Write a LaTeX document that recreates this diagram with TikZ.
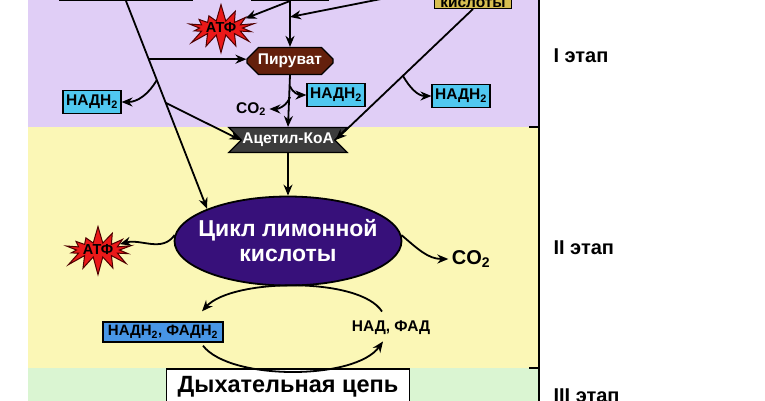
\documentclass[tikz,border=0pt]{standalone}
\usepackage{fontspec}
\setmainfont{Liberation Sans}
\usetikzlibrary{arrows.meta,calc,shapes.symbols,shapes.misc,shapes.geometric}
\definecolor{lilacbg}{RGB}{224,206,246}
\definecolor{yellowbg}{RGB}{251,247,182}
\definecolor{greenbg}{RGB}{218,245,210}
\definecolor{nadhcyan}{RGB}{80,200,240}
\definecolor{nadhblue}{RGB}{72,150,230}
\definecolor{pyrbrown}{RGB}{100,32,12}
\definecolor{acetgray}{RGB}{60,60,60}
\definecolor{cycviolet}{RGB}{55,16,122}
\definecolor{kislgold}{RGB}{215,190,80}
\definecolor{atfred}{RGB}{235,25,25}
\definecolor{atfdark}{RGB}{80,0,0}
\begin{document}
\begin{tikzpicture}[x=1pt,y=1pt,
  arr/.style={-{Stealth[length=11pt,width=9pt]},line width=1.8pt},
  lbl/.style={font=\fontsize{15.5}{15.5}\selectfont\bfseries},
  nadh/.style={draw,line width=1.4pt,fill=nadhcyan,lbl,inner xsep=3pt,inner ysep=2pt,minimum height=23pt},
  atf/.style={starburst,starburst points=14,starburst point height=18pt,random starburst=7,
    draw=atfdark,line width=1pt,fill=atfred,text=black,font=\fontsize{14.5}{14.5}\selectfont\bfseries,
    minimum width=54pt,minimum height=27pt,inner sep=0pt},
  stage/.style={font=\fontsize{20}{20}\selectfont\bfseries,anchor=base west}]
\useasboundingbox (0,0) rectangle (765,-400);
\clip (0,0) rectangle (765,-400);
\fill[lilacbg] (28,5) rectangle (539,-127);
\fill[yellowbg] (28,-127) rectangle (539,-368);
\fill[greenbg] (28,-368) rectangle (539,-405);
\draw[line width=1.8pt] (539,5) -- (539,-405);
\draw[line width=1.8pt] (529,-127) -- (539,-127) (529,-368) -- (539,-368);

\node[draw,line width=1.8pt,fill=white,minimum width=133pt,minimum height=30pt,anchor=south] (src1) at (126,-1) {};
\node[draw,line width=1.8pt,fill=white,minimum width=76pt,minimum height=30pt,anchor=south] (src2) at (290,-1) {};
\coordinate (src3) at (386,2);
\node[draw,line width=1.4pt,fill=kislgold,lbl,anchor=south,minimum width=77pt,inner ysep=1pt] (kisl) at (473,-9) {кислоты};

\node[atf] (atf1) at (221,-28) {АТФ};
\node[chamfered rectangle,chamfered rectangle xsep=9pt,draw,line width=1.2pt,fill=pyrbrown,text=white,lbl,
  minimum width=86pt,minimum height=27pt,inner sep=1pt] (pyr) at (290,-61) {Пируват};
\node[nadh] (nadhL) at (92,-102) {НАДН\textsubscript{2}};
\node[nadh] (nadhM) at (336,-95) {НАДН\textsubscript{2}};
\node[nadh] (nadhR) at (461,-96) {НАДН\textsubscript{2}};
\node[lbl] (co2a) at (251,-109) {CO\textsubscript{2}};
\node[signal,signal to=nowhere,signal from=west and east,draw,line width=1.2pt,fill=acetgray,text=white,lbl,
  minimum width=108pt,minimum height=25pt,inner sep=1pt] (acet) at (288,-140) {Ацетил-КоА};
\node[ellipse,draw,line width=1.8pt,fill=cycviolet,text=white,font=\fontsize{23}{25}\selectfont\bfseries,
  minimum width=227pt,minimum height=89pt,inner xsep=-20pt,inner ysep=0pt,align=center] (cyc) at (288,-241) {Цикл лимонной\\кислоты};
\node[atf] (atf2) at (98,-250) {АТФ};
\node[font=\fontsize{20}{20}\selectfont\bfseries] (co2b) at (471,-259) {CO\textsubscript{2}};
\node[nadh,fill=nadhblue,font=\fontsize{15}{15}\selectfont\bfseries,minimum height=20pt,minimum width=120pt] (nadhF) at (163,-332) {НАДН\textsubscript{2}, ФАДН\textsubscript{2}};
\node[lbl] (nad) at (391,-328) {НАД, ФАД};
\node[draw,line width=1.8pt,fill=white,anchor=north,minimum width=243pt,inner ysep=2pt,text height=22pt,text depth=20pt,
  font=\fontsize{23.5}{23.5}\selectfont\bfseries] (resp) at (288,-368) {Дыхательная цепь};

\node[stage] (st1) at (550,-62) {I этап};
\node[stage] (st2) at (550,-254) {II этап};
\node[stage] (st3) at (550,-402) {III этап};

\coordinate (b1) at ($(src1.south)!0.28!(cyc.north west)$);
\coordinate (b2) at ($(src1.south)!0.38!(cyc.north west)$);
\coordinate (b3) at ($(src1.south)!0.49!(cyc.north west)$);
\draw[arr] (src1.south) -- (cyc.north west);
\draw[arr] (b1) -- (b1 -| pyr.west);
\draw[arr] (b2) to[out=240,in=0] (nadhL.east);
\draw[arr] (b3) -- (acet.west);
\coordinate (j1) at (src2.south |- 0,-17);
\draw[arr] (src2.south) -- (pyr.north);
\draw[arr] (src2.south) -- (atf1);
\draw[arr] (src3) -- (j1);
\coordinate (b4) at (pyr.south |- 0,-86);
\coordinate (b5) at (pyr.south |- 0,-97);
\draw[arr] (pyr.south) -- (acet.north);
\draw[arr] (b4) to[out=-70,in=180] (nadhM.west);
\draw[arr] (b5) to[out=250,in=0] (co2a.east);
\coordinate (b6) at ($(kisl.south)!0.51!(acet.east)$);
\draw[arr] (kisl.south) -- (acet.east);
\draw[arr] (b6) to[out=-60,in=180] (nadhR.west);
\draw[arr] (acet.south) -- (cyc.north);
\draw[arr] (cyc.177) to[out=235,in=15] (atf2);
\draw[arr] (cyc.3) to[out=-40,in=180] (co2b.west);
\draw[arr] ([shift={(-9,6)}]nad.north) .. controls +(-22,35) and +(30,33) .. ([shift={(39,10)}]nadhF.north);
\draw[arr] ([shift={(40,-3)}]nadhF.south) .. controls +(27,-35) and +(-28,-39) .. ([shift={(-8,-3)}]nad.south);
\end{tikzpicture}
\end{document}
